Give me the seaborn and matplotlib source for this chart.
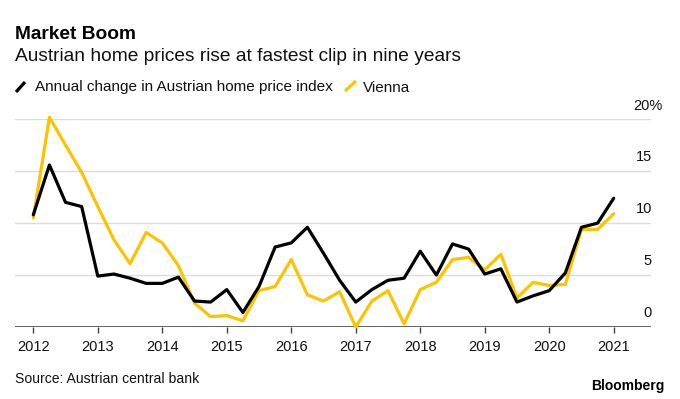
import numpy as np
import pandas as pd
import matplotlib
matplotlib.use("Agg")
import matplotlib.pyplot as plt
from matplotlib.lines import Line2D
import seaborn as sns

# Quarterly data, Q1 2012 .. Q1 2021
quarters = pd.period_range("2012Q1", "2021Q1", freq="Q")
austria = [10.8, 15.6, 12.0, 11.6, 4.9, 5.1, 4.7, 4.2, 4.2, 4.8,
           2.5, 2.4, 3.6, 1.4, 3.9, 7.7, 8.1, 9.6, 7.1, 4.5,
           2.4, 3.6, 4.5, 4.7, 7.3, 5.0, 8.0, 7.5, 5.1, 5.6,
           2.4, 3.0, 3.5, 5.2, 9.6, 10.0, 12.4]
vienna = [10.5, 20.2, 17.5, 14.9, 11.6, 8.4, 6.1, 9.1, 8.1, 5.9,
          2.3, 1.0, 1.1, 0.6, 3.5, 3.9, 6.5, 3.1, 2.5, 3.4,
          0.0, 2.5, 3.5, 0.3, 3.6, 4.3, 6.5, 6.7, 5.5, 7.0,
          2.8, 4.3, 4.0, 4.1, 9.4, 9.4, 10.9]
year_ticks = list(range(2012, 2022))
y_ticks = [0, 5, 10, 15, 20]
y_labels = ["0", "5", "10", "15", "20%"]

BLACK = "#000000"
YELLOW = "#fcc400"
FONT = "Liberation Sans"

df = pd.DataFrame({
    "t": quarters.year + (quarters.quarter - 1) / 4,
    "austria": austria,
    "vienna": vienna,
})

W, H = 680, 399


def fx(px):
    return px / W


def fy(py):
    return 1 - py / H


sns.set_theme(style="white")
plt.rcParams["font.family"] = [FONT, "DejaVu Sans"]

fig = plt.figure(figsize=(W / 100, H / 100), dpi=100)
ax = fig.add_axes([fx(15), fy(327), fx(651 - 15), (327 - 119.3) / H])

# gridlines first, then the series
for v in y_ticks[1:]:
    ax.axhline(v, color="#dcdcdc", lw=1, zorder=0)
ax.axhline(0, color="#444444", lw=1.2, zorder=1)

sns.lineplot(data=df, x="t", y="vienna", color=YELLOW, lw=2.3, ax=ax,
             clip_on=False, zorder=2)
sns.lineplot(data=df, x="t", y="austria", color=BLACK, lw=2.3, ax=ax,
             clip_on=False, zorder=3)

ax.set_xlim(2012 - 18.3 / 64.5, 2021 + 37.3 / 64.5)
ax.set_ylim(0, 20)
sns.despine(ax=ax, left=True, bottom=True)
ax.set_xlabel("")
ax.set_ylabel("")
ax.set_yticks([])
ax.set_xticks(year_ticks)
ax.set_xticklabels([str(y) for y in year_ticks], fontsize=10.5, color="#111111")
ax.tick_params(axis="x", bottom=True, length=4.5, width=1, color="#444444",
               pad=5)

# right side value labels sitting above each gridline
trans = ax.get_yaxis_transform()
for v, lab in zip(y_ticks, y_labels):
    if lab.endswith("%"):
        ax.annotate(lab, xy=((633 - 15) / 636, v), xycoords=trans, xytext=(0, 9.5),
                    textcoords="offset points", ha="left", va="center",
                    fontsize=10.5, color="#111111", annotation_clip=False)
    else:
        ax.annotate(lab, xy=(1.0016, v), xycoords=trans, xytext=(0, 10),
                    textcoords="offset points", ha="right", va="center",
                    fontsize=10.5, color="#111111", annotation_clip=False)

# header
fig.text(fx(15), fy(39), "Market Boom", fontsize=13.8, fontweight="bold",
         va="baseline", color="#000000")
fig.text(fx(15), fy(61), "Austrian home prices rise at fastest clip in nine years",
         fontsize=13.8, va="baseline", color="#111111")

# legend with slanted strokes
fig.add_artist(Line2D([fx(16), fx(25)], [fy(92), fy(82)], color=BLACK, lw=2.3,
                      solid_capstyle="butt"))
fig.text(fx(35), fy(91.5), "Annual change in Austrian home price index",
         fontsize=11, va="baseline", color="#111111")
fig.add_artist(Line2D([fx(345), fx(356)], [fy(91), fy(81)], color=YELLOW, lw=2.3,
                      solid_capstyle="butt"))
fig.text(fx(363), fy(91.5), "Vienna", fontsize=11, va="baseline", color="#111111")

# footer
fig.text(fx(15), fy(383), "Source: Austrian central bank", fontsize=10.1,
         va="baseline", color="#111111")
fig.text(fx(665), fy(390), "Bloomberg", fontsize=10, fontweight="bold",
         ha="right", va="baseline", color="#000000")

fig.savefig("out.png", dpi=100, facecolor="white")
plt.close(fig)
